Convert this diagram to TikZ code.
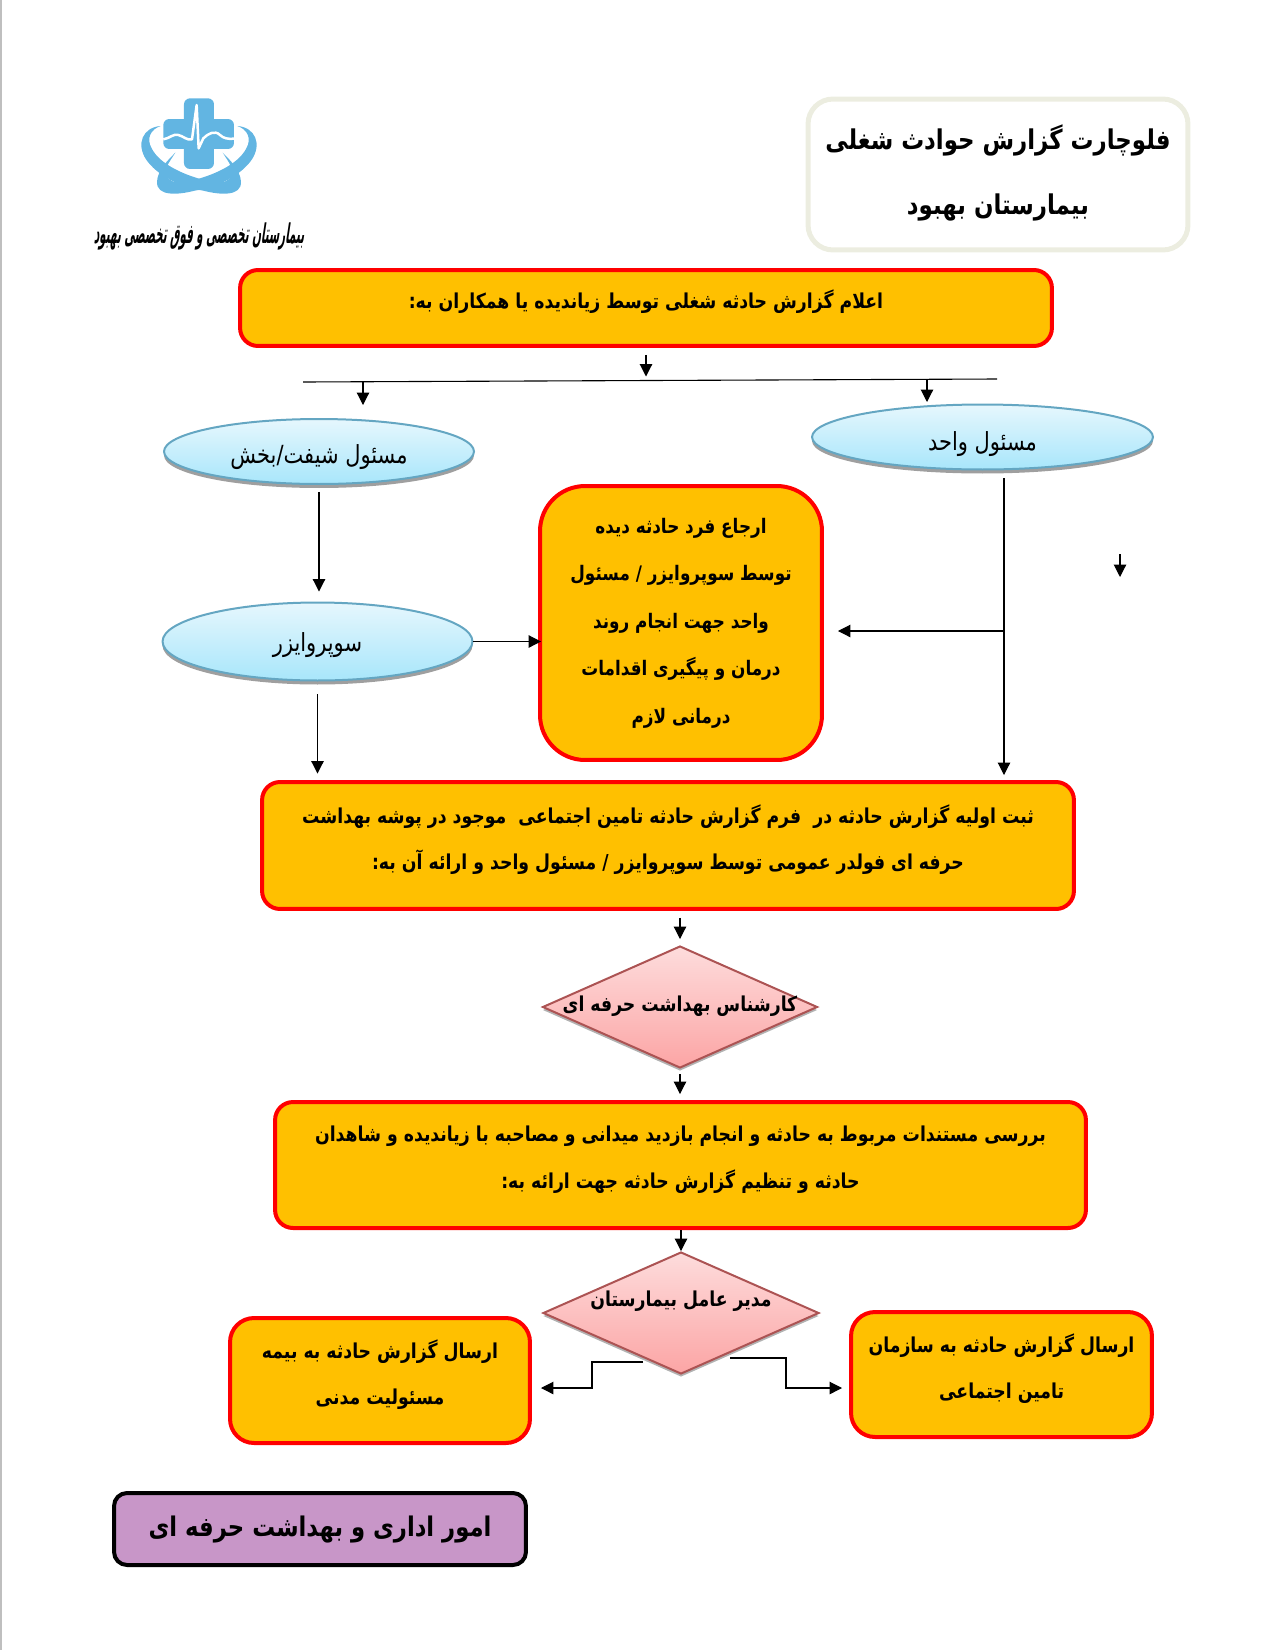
\documentclass[tikz,border=0pt]{standalone}
\usepackage{fontspec}
\usetikzlibrary{shapes.geometric, arrows.meta, shadows, positioning}
\TeXXeTstate=1
\newfontfamily\farsifont[Script=Arabic,FakeStretch=0.84]{DejaVu Sans}
\newfontfamily\logofont[Script=Arabic,FakeStretch=0.38,FakeSlant=0.15]{DejaVu Sans}
\newcommand{\fa}[2][0pt]{\raisebox{#1}[0pt][0pt]{\beginR #2\endR}}
\newcommand{\fad}[1]{\makebox[0pt]{\smash{#1}}}
\definecolor{boxorange}{HTML}{FFC000}
\definecolor{titleline}{HTML}{ECEDE0}
\definecolor{logoblue}{HTML}{62B5E2}
\definecolor{deptpurple}{HTML}{C896C8}
\definecolor{elltop}{HTML}{E6F7FD}
\definecolor{ellbot}{HTML}{A8E6FB}
\definecolor{diatop}{HTML}{FDDCDC}
\definecolor{diabot}{HTML}{FCA5A5}
\tikzset{
  repbox/.style={rectangle, rounded corners=0.36cm, draw=red, fill=boxorange,
                 line width=0.08cm, align=center,
                 font=\farsifont\bfseries\fontsize{11.7}{26.5}\selectfont},
  staffell/.style={ellipse, draw=cyan!50!gray, top color=elltop, bottom color=ellbot,
                   line width=0.04cm, minimum width=6.2cm, inner sep=0pt,
                   general shadow={fill=gray!75, shadow yshift=-0.08cm},
                   font=\farsifont\fontsize{14.2}{17}\selectfont},
  deskdia/.style={diamond, draw=red!35!gray, top color=diatop, bottom color=diabot,
                  line width=0.04cm, inner sep=0pt, minimum width=5.5cm, minimum height=2.44cm,
                  general shadow={fill=gray!60, shadow yshift=-0.06cm},
                  font=\farsifont\bfseries\fontsize{11.7}{14}\selectfont},
  flowarrow/.style={-{Triangle[length=0.25cm, width=0.25cm]}, line width=0.022cm},
  flowline/.style={line width=0.022cm},
}
\begin{document}
\begin{tikzpicture}[x=0.02cm, y=-0.02cm]
  \useasboundingbox (0,0) rectangle (1275,1650);
  \draw[gray!50, line width=0.03cm] (1,0) -- (1,1650);
  % Logo
  \begin{scope}[shift={(60,70)}, x=0.00667cm, y=-0.00667cm]
    \foreach \flip in {1,-1} {
      \begin{scope}[shift={(417,0)}, xscale=\flip, shift={(-417,0)}]
        \fill[logoblue] (302,168) .. controls (248,172) and (228,222) .. (258,268)
          .. controls (290,315) and (360,352) .. (430,362)
          .. controls (480,375) and (545,380) .. (543,335)
          .. controls (541,300) and (510,270) .. (488,248)
          .. controls (505,275) and (530,305) .. (510,325)
          .. controls (495,340) and (470,340) .. (440,332)
          .. controls (380,318) and (300,285) .. (275,235)
          .. controls (258,205) and (272,178) .. (302,168) -- cycle;
      \end{scope}
    }
    \fill[logoblue, rounded corners=0.12cm] (372,85) rectangle (462,297);
    \fill[logoblue, rounded corners=0.12cm] (310,147) rectangle (522,237);
    \draw[white, line width=0.05cm, line join=round] (310,208)
      .. controls (330,205) and (340,190) .. (355,195)
      .. controls (370,198) and (380,212) .. (396,208)
      -- (410,105) -- (416,235) -- (430,205)
      .. controls (445,190) and (465,180) .. (480,195)
      .. controls (490,205) and (505,208) .. (522,206);
  \end{scope}
  \node[font=\logofont\bfseries\fontsize{15.5}{18}\selectfont] (logotext) at (199,236)
    {\fa[-4pt]{بیمارستان تخصصی و فوق تخصصی بهبود}};
  % Title
  \node[rectangle, rounded corners=0.5cm, draw=titleline, line width=0.1cm, align=center,
        minimum width=7.6cm, minimum height=3.02cm,
        font=\farsifont\bfseries\fontsize{15.5}{37}\selectfont] (title) at (998,174.5)
    {\fa[-4.4pt]{فلوچارت گزارش حوادث شغلی}\\\fa[-4.4pt]{بیمارستان بهبود}};
  % Report box
  \node[repbox, minimum width=16.24cm, minimum height=1.52cm] (report) at (646,308)
    {\fa{اعلام گزارش حادثه شغلی توسط زیاندیده یا همکاران به:}};
  \coordinate (barw) at (303,382);
  \coordinate (bare) at (997,379);
  \coordinate (barc) at (646,380.5);
  \coordinate (barl) at (363,382);
  \coordinate (barr) at (927,380);
  \draw[flowline] (barw) -- (bare);
  \draw[flowarrow, shorten <=0.14cm, shorten >=0.08cm] (report) -- (barc);
  % Staff ellipses
  \node[staffell, minimum height=1.3cm] (shift) at (319,451.5) {\fa[-7pt]{مسئول شیفت/بخش}};
  \node[staffell, minimum width=6.82cm, minimum height=1.3cm] (unit) at (982.5,437) {\fa[-7.6pt]{مسئول واحد}};
  \node[staffell, minimum height=1.56cm] (super) at (317.5,641.5) {\fa[-5.5pt]{سوپروایزر}};
  \draw[flowarrow, shorten >=0.26cm] (barl) -- (barl |- shift.north);
  \draw[flowarrow, shorten >=0.03cm] (barr) -- (barr |- unit.north);
  \draw[flowarrow, shorten <=0.14cm, shorten >=0.2cm] (shift) -- (shift |- super.north);
  % Care box
  \node[repbox, rounded corners=0.9cm, minimum width=5.64cm, minimum height=5.48cm,
        font=\farsifont\bfseries\fontsize{11.4}{27}\selectfont] (care) at (681,623)
    {\fa[-3pt]{ارجاع فرد حادثه دیده}\\\fa[-3pt]{توسط سوپروایزر / مسئول}\\\fa[-3pt]{واحد جهت انجام روند}\\\fa[-3pt]{درمان و پیگیری اقدامات}\\\fa[-3pt]{درمانی لازم}};
  \draw[flowarrow, shorten >=-0.06cm] (super.east) -- (care.west |- super.east);
  \coordinate (unitout) at (1004,478);
  \coordinate (unitmid) at (1004,631);
  \draw[flowarrow, shorten >=0.28cm] (unitmid) -- (unitmid -| care.east);
  % Lone arrow
  \coordinate (lonetop) at (1120,554);
  \coordinate (loneend) at (1120,577);
  \draw[flowarrow] (lonetop) -- (loneend);
  % First record
  \node[repbox, minimum width=16.24cm, minimum height=2.54cm] (record) at (668,845.5)
    {\fa[-0.5pt]{ثبت اولیه گزارش حادثه در\ \ فرم گزارش حادثه تامین اجتماعی\ \ موجود در پوشه بهداشت}\\\fa[-0.5pt]{حرفه ای فولدر عمومی توسط سوپروایزر / مسئول واحد و ارائه آن به:}};
  \draw[flowarrow, shorten >=0.1cm] (unitout) -- (unitout |- record.north);
  \draw[flowarrow, shorten <=0.26cm, shorten >=0.13cm] (super) -- (super |- record.north);
  % Expert
  \node[deskdia] (expert) at (680,1007) {\raisebox{-5.5pt}{\fad{\fa{کارشناس بهداشت حرفه ای}}}};
  \draw[flowarrow, shorten <=0.14cm, shorten >=0.12cm] (record.south -| expert.north) -- (expert.north);
  % Review box
  \node[repbox, minimum width=16.22cm, minimum height=2.52cm] (review) at (680.5,1165)
    {\fa{بررسی مستندات مربوط به حادثه و انجام بازدید میدانی و مصاحبه با زیاندیده و شاهدان}\\\fa{حادثه و تنظیم گزارش حادثه جهت ارائه به:}};
  \draw[flowarrow, shorten <=0.1cm, shorten >=0.12cm] (expert.south) -- (review.north -| expert.south);
  % Manager
  \node[deskdia, minimum width=5.52cm] (manager) at (681,1313) {\raisebox{7.5pt}{\fad{\fa{مدیر عامل بیمارستان}}}};
  \draw[flowarrow] (review.south -| manager.north) -- (manager.north);
  % Outcome boxes
  \node[repbox, rounded corners=0.48cm, minimum width=6cm, minimum height=2.5cm] (insure) at (380,1380.5)
    {\fa[-0.6pt]{ارسال گزارش حادثه به بیمه}\\\fa[-0.6pt]{مسئولیت مدنی}};
  \node[repbox, rounded corners=0.48cm, minimum width=6.02cm, minimum height=2.5cm] (social) at (1001.5,1374.5)
    {\fa[-0.6pt]{ارسال گزارش حادثه به سازمان}\\\fa[-0.6pt]{تامین اجتماعی}};
  \coordinate (mgrl) at (643,1362);
  \coordinate (mgrr) at (730,1358);
  \draw[flowarrow, shorten >=0.18cm] (mgrl) -- (592,1362) -- (592,1388) -- (insure.east |- 592,1388);
  \draw[flowarrow, shorten >=0.14cm] (mgrr) -- (786,1358) -- (786,1388) -- (social.west |- 786,1388);
  % Department
  \node[rectangle, rounded corners=0.26cm, draw=black, fill=deptpurple, line width=0.08cm,
        minimum width=8.24cm, minimum height=1.44cm,
        font=\farsifont\bfseries\fontsize{15.4}{18}\selectfont] (dept) at (320,1529)
    {\fa[-4.5pt]{امور اداری و بهداشت حرفه ای}};
\end{tikzpicture}
\end{document}
